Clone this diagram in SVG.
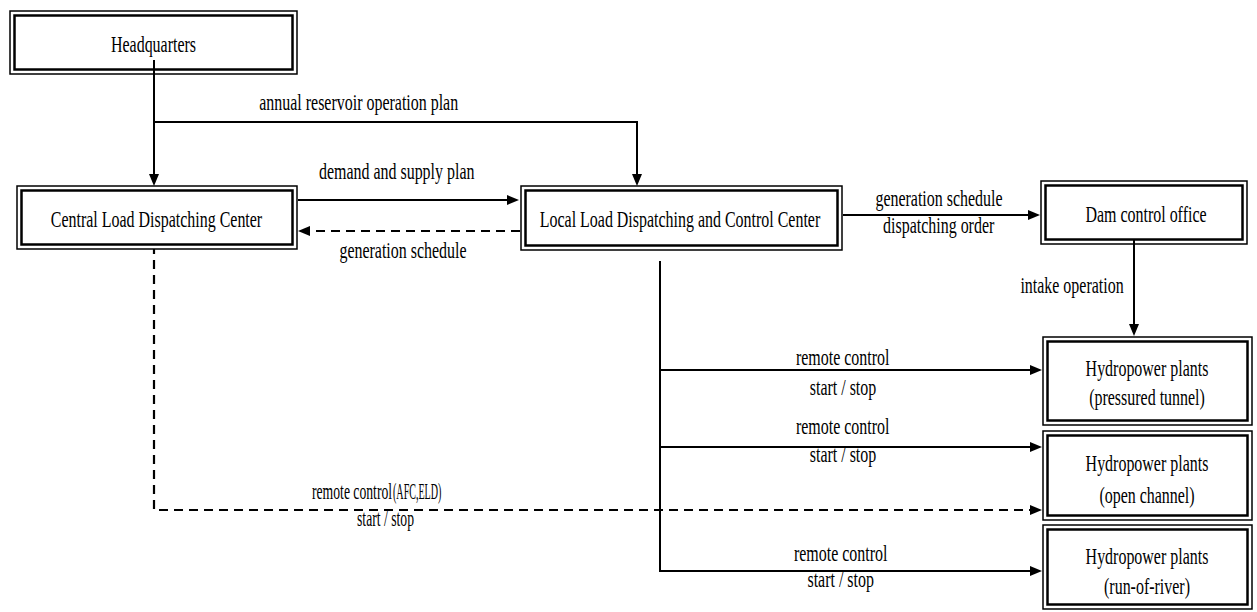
<svg xmlns="http://www.w3.org/2000/svg" width="1257" height="612" viewBox="0 0 1257 612">
<style>
.bg{fill:#fff}
.o{fill:#fff;stroke:#000;stroke-width:1.5}
.i{fill:none;stroke:#000;stroke-width:2.5}
.t{font-size:24px;fill:#000;text-anchor:middle}
.s{font-size:24px;fill:#000;text-anchor:start}
.c{fill:none;stroke:#000;stroke-width:2}
.d{fill:none;stroke:#000;stroke-width:2.2;stroke-dasharray:9 6}
</style>
<defs>
<marker id="ah" markerUnits="userSpaceOnUse" markerWidth="13" markerHeight="11" refX="9" refY="5" orient="auto" viewBox="0 0 13 11">
<path d="M0,0 L12,5 L0,10 Z" fill="#000"/>
</marker>
</defs>
<rect class="bg" x="0" y="0" width="1257" height="612"/>

<g font-family="'Liberation Serif', 'Times New Roman', serif">
<g id="connectors">
<path class="c" d="M154,60 V183" marker-end="url(#ah)"/>
<path class="c" d="M154,122 H637 V183" marker-end="url(#ah)"/>
<path class="c" d="M298,200 H516" marker-end="url(#ah)"/>
<path class="d" d="M520,231 H301" marker-end="url(#ah)"/>
<path class="c" d="M843,215 H1037" marker-end="url(#ah)"/>
<path class="c" d="M1134,240 V333" marker-end="url(#ah)"/>
<path class="c" d="M660,261 V571"/>
<path class="c" d="M660,370 H1039" marker-end="url(#ah)"/>
<path class="c" d="M660,447 H1039" marker-end="url(#ah)"/>
<path class="c" d="M659,571 H1039" marker-end="url(#ah)"/>
<path class="d" d="M154,245 V510 H1039" marker-end="url(#ah)"/>
<text class="t" transform="translate(358.7,110) scale(0.665,1)">annual reservoir operation plan</text>
<text class="t" transform="translate(396.7,179) scale(0.665,1)">demand and supply plan</text>
<text class="t" transform="translate(403,258) scale(0.665,1)">generation schedule</text>
<text class="t" transform="translate(939,206) scale(0.665,1)">generation schedule</text>
<text class="t" transform="translate(938.7,233) scale(0.665,1)">dispatching order</text>
<text class="t" transform="translate(1072,293) scale(0.665,1)">intake operation</text>
<text class="t" transform="translate(842.7,365) scale(0.665,1)">remote control</text>
<text class="t" transform="translate(843,395) scale(0.665,1)">start / stop</text>
<text class="t" transform="translate(842.7,434) scale(0.665,1)">remote control</text>
<text class="t" transform="translate(843,462) scale(0.665,1)">start / stop</text>
<text class="s" transform="translate(312,499) scale(0.57,1)">remote control</text>
<text class="s" transform="translate(393,499) scale(0.42,1)">(AFC,ELD)</text>
<text class="t" transform="translate(385.5,526) scale(0.57,1)">start / stop</text>
<text class="t" transform="translate(840.7,561) scale(0.665,1)">remote control</text>
<text class="t" transform="translate(840.7,587) scale(0.665,1)">start / stop</text>
</g>

<g id="headquarters">
<rect class="o" x="10" y="11" width="287" height="63"/>
<rect class="i" x="14.5" y="15.5" width="278" height="54"/>
<text class="t" transform="translate(153.5,51.5) scale(0.665,1)">Headquarters</text>
</g>
<path class="c" d="M154,60 V74"/>

<g id="central">
<rect class="o" x="17" y="186" width="280" height="63"/>
<rect class="i" x="21.5" y="190.5" width="271" height="54"/>
<text class="t" transform="translate(156.5,226.5) scale(0.665,1)">Central Load Dispatching Center</text>
</g>

<g id="local">
<rect class="o" x="521" y="186" width="321" height="64"/>
<rect class="i" x="525.5" y="190.5" width="312" height="55"/>
<text class="t" transform="translate(680,226.5) scale(0.665,1)">Local Load Dispatching and Control Center</text>
</g>

<g id="dam">
<rect class="o" x="1041" y="181" width="206" height="63"/>
<rect class="i" x="1045.5" y="185.5" width="197" height="54"/>
<text class="t" transform="translate(1146,221.5) scale(0.665,1)">Dam control office</text>
</g>
<path class="c" d="M1134,240 V244"/>

<g id="hydro1">
<rect class="o" x="1043" y="337" width="209" height="88"/>
<rect class="i" x="1047.5" y="341.5" width="200" height="79"/>
<text class="t" transform="translate(1147,376) scale(0.665,1)">Hydropower plants</text>
<text class="t" transform="translate(1147,405) scale(0.665,1)">(pressured tunnel)</text>
</g>

<g id="hydro2">
<rect class="o" x="1043" y="431" width="209" height="89"/>
<rect class="i" x="1047.5" y="435.5" width="200" height="80"/>
<text class="t" transform="translate(1147,471) scale(0.665,1)">Hydropower plants</text>
<text class="t" transform="translate(1147,503) scale(0.665,1)">(open channel)</text>
</g>

<g id="hydro3">
<rect class="o" x="1043" y="525" width="209" height="84"/>
<rect class="i" x="1047.5" y="529.5" width="200" height="75"/>
<text class="t" transform="translate(1147,564) scale(0.665,1)">Hydropower plants</text>
<text class="t" transform="translate(1147,594) scale(0.665,1)">(run-of-river)</text>
</g>
</g>
</svg>
